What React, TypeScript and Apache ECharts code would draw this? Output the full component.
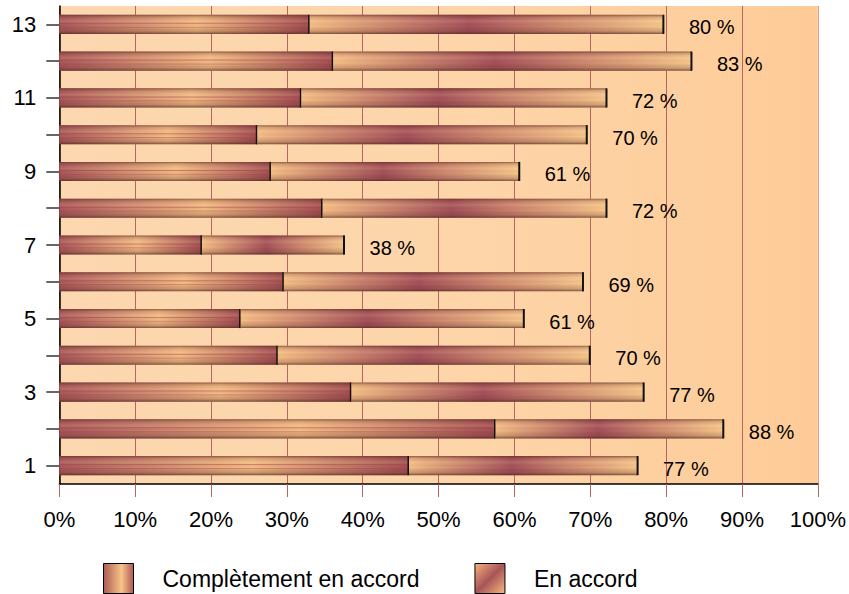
import React, { useEffect, useRef } from 'react';
import * as echarts from 'echarts';

const categories = ['1', '2', '3', '4', '5', '6', '7', '8', '9', '10', '11', '12', '13'];
const completement = [46.1, 57.5, 38.5, 28.8, 23.9, 29.6, 18.8, 34.7, 27.9, 26.1, 31.9, 36.1, 33.0];
const enAccord = [30.2, 30.1, 38.6, 41.2, 37.4, 39.5, 18.8, 37.5, 32.8, 43.5, 40.3, 47.3, 46.7];
const totalLabels = [77, 88, 77, 70, 61, 69, 38, 72, 61, 70, 72, 83, 80];
const seriesNames = ['Complètement en accord', 'En accord'];

const FONT = '"Liberation Sans", Arial, Helvetica, sans-serif';

const lin = (x: number, y: number, x2: number, y2: number, stops: [number, string][]) => ({
  type: 'linear',
  x, y, x2, y2,
  colorStops: stops.map(([offset, color]) => ({ offset, color })),
});

const grad1 = () => lin(0, 0, 1, 0, [[0, '#A9575A'], [0.55, '#F4BC84'], [1, '#A24D52']]);
const grad2 = () => lin(0, 0, 1, 0, [[0, '#F6BE86'], [0.45, '#A5505A'], [0.7, '#D08A70'], [1, '#F8C78C']]);
const shade = () =>
  lin(0, 0, 0, 1, [
    [0, 'rgba(80,35,30,0.6)'],
    [0.12, 'rgba(90,40,35,0.18)'],
    [0.35, 'rgba(255,230,180,0.12)'],
    [0.6, 'rgba(0,0,0,0)'],
    [0.85, 'rgba(90,40,35,0.22)'],
    [1, 'rgba(60,30,25,0.65)'],
  ]);

export default function App() {
  const ref = useRef<HTMLDivElement>(null);
  useEffect(() => {
    if (!ref.current) return;
    const chart = echarts.init(ref.current, undefined, { renderer: 'svg' });

    const makeRender = (which: number) => (params: any, api: any) => {
      const s = api.value(0);
      const e = api.value(1);
      const c = api.value(2);
      const p0 = api.coord([s, c]);
      const p1 = api.coord([e, c]);
      const band = api.size([0, 1])[1];
      const h = band * 0.52;
      const x = p0[0];
      const w = p1[0] - p0[0];
      const y = p0[1] - h / 2;
      const children: any[] = [
        { type: 'rect', shape: { x, y, width: w, height: h }, style: { fill: which === 0 ? grad1() : grad2() } },
        { type: 'rect', shape: { x, y, width: w, height: h }, style: { fill: shade() } },
      ];
      if (which === 0) {
        children.push(
          { type: 'rect', shape: { x, y: y + h * 0.42, width: w, height: 1 }, style: { fill: 'rgba(170,60,75,0.45)' } },
          { type: 'rect', shape: { x, y: y + h * 0.62, width: w, height: 1 }, style: { fill: 'rgba(170,60,75,0.35)' } }
        );
      }
      children.push({ type: 'rect', shape: { x: p1[0] - 1.5, y, width: 2, height: h }, style: { fill: '#111' } });
      if (which === 1) {
        children.push({
          type: 'text',
          x: p1[0] + 25,
          y: p1[1] + 3,
          style: {
            text: api.value(3) + ' %',
            fill: '#000',
            font: `20px ${FONT}`,
            textAlign: 'left',
            textVerticalAlign: 'middle',
            verticalAlign: 'middle',
          },
        });
      }
      return { type: 'group', children };
    };

    const data1 = categories.map((_, i) => [0, completement[i], i, totalLabels[i]]);
    const data2 = categories.map((_, i) => [completement[i], completement[i] + enAccord[i], i, totalLabels[i]]);

    const g = '#B86460';
    const splitColors = [g, g, g, g, g, g, g, g, g, g, '#D99A9A'];

    chart.setOption({
      animation: false,
      textStyle: { fontFamily: FONT },
      grid: {
        left: 59.3,
        right: 29.7,
        top: 6,
        bottom: 110,
        show: true,
        borderWidth: 0,
        backgroundColor: lin(0, 0, 1, 0, [[0, '#FCD7AF'], [0.55, '#FDD5A9'], [1, '#FECB97']]),
      },
      legend: {
        left: 103,
        top: 563,
        padding: 0,
        itemWidth: 30,
        itemHeight: 30,
        itemGap: 55,
        icon: 'rect',
        selectedMode: false,
        textStyle: { fontSize: 23, color: '#000', fontFamily: FONT, padding: [0, 0, 0, 24] },
        data: [
          {
            name: seriesNames[0],
            icon: 'rect',
            itemStyle: { color: lin(0, 0, 1, 0, [[0, '#A95A56'], [0.6, '#F8C488'], [1, '#AE5858']]), borderColor: '#000', borderWidth: 1 },
          },
          {
            name: seriesNames[1],
            icon: 'rect',
            itemStyle: { color: lin(0, 0, 1, 1, [[0, '#F4B47C'], [0.5, '#A85458'], [1, '#F6BA80']]), borderColor: '#000', borderWidth: 1 },
          },
        ],
      },
      xAxis: {
        type: 'value',
        min: 0,
        max: 100,
        interval: 10,
        axisLine: { show: true, lineStyle: { color: '#000', width: 1.5 } },
        axisTick: { show: true, length: 13, lineStyle: { color: g, width: 1 } },
        axisLabel: { formatter: '{value}%', fontSize: 22, color: '#000', margin: 24, fontFamily: FONT },
        splitLine: { show: true, lineStyle: { color: splitColors, width: 1 } },
      },
      yAxis: {
        type: 'category',
        data: categories,
        axisLine: { show: true, lineStyle: { color: '#000', width: 1.5 } },
        axisTick: { show: true, length: 13, alignWithLabel: true, interval: 0, lineStyle: { color: '#333', width: 1.5 } },
        axisLabel: { interval: 1, fontSize: 22, color: '#000', margin: 23, fontFamily: FONT },
        splitLine: { show: false },
      },
      series: [
        {
          type: 'custom',
          name: seriesNames[0],
          renderItem: makeRender(0),
          encode: { x: [0, 1], y: 2 },
          data: data1,
          itemStyle: { color: '#D08868' },
        },
        {
          type: 'custom',
          name: seriesNames[1],
          renderItem: makeRender(1),
          encode: { x: [0, 1], y: 2 },
          data: data2,
          itemStyle: { color: '#C07060' },
        },
      ],
    });
    return () => chart.dispose();
  }, []);
  return <div ref={ref} style={{ width: 849, height: 594, position: 'absolute', left: 0, top: 0 }} />;
}
